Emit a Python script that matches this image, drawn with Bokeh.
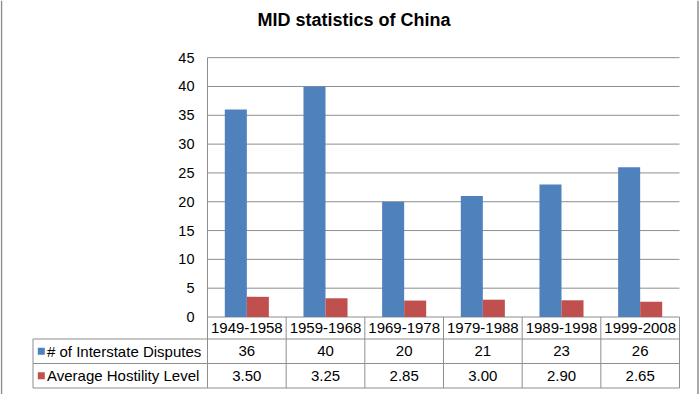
from bokeh.plotting import figure
from bokeh.models import LinearAxis, FixedTicker, Label, Span, ColumnDataSource, Grid
from bokeh.core.properties import value
from bokeh.embed import file_html
from bokeh.resources import INLINE

# ---------------- data ----------------
chart_title = "MID statistics of China"
periods = ["1949-1958", "1959-1968", "1969-1978", "1979-1988", "1989-1998", "1999-2008"]
disputes = [36, 40, 20, 21, 23, 26]
hostility = [3.50, 3.25, 2.85, 3.00, 2.90, 2.65]
series_names = ["# of Interstate Disputes", "Average Hostility Level"]
y_ticks = [0, 5, 10, 15, 20, 25, 30, 35, 40, 45]

# ---------------- styles ----------------
BLUE = "#4F81BD"
RED = "#C0504D"
LINE = "#8E8E8E"
FONT = "Liberation Sans"

W, H = 700, 394
X0_PX = 207.0      # canvas x where the category axis starts
CAT_PX = 78.667    # width of one category in pixels
Y0_PX = 316.5      # canvas y of value 0
UNIT_PX = 5.763    # pixels per value unit


def dx(px):
    return (px - X0_PX) / CAT_PX


def dy(py):
    return (Y0_PX - py) / UNIT_PX


n = len(periods)
p = figure(width=W, height=H, output_backend="svg", toolbar_location=None, tools="",
           x_range=(dx(0), dx(W)), y_range=(dy(H), dy(0)),
           x_axis_location=None, y_axis_location=None, min_border=0)
p.outline_line_color = None
p.background_fill_color = "white"
p.border_fill_color = "white"
p.renderers = [r for r in p.renderers if not isinstance(r, Grid)]
p.center = [r for r in p.center if not isinstance(r, Grid)]

# gridlines over category area
p.segment(x0=[0] * len(y_ticks), x1=[n] * len(y_ticks), y0=y_ticks, y1=y_ticks,
          line_color=LINE, line_width=1)

# y axis at the start of the category area
yaxis = LinearAxis(fixed_location=0, ticker=FixedTicker(ticks=y_ticks), bounds=(0, max(y_ticks)))
yaxis.axis_line_color = LINE
yaxis.major_tick_in = 0
yaxis.major_tick_out = 0
yaxis.minor_tick_in = 0
yaxis.minor_tick_out = 0
yaxis.major_label_standoff = 13
yaxis.major_label_text_font = FONT
yaxis.major_label_text_font_size = "14.5px"
yaxis.major_label_text_color = "black"
p.add_layout(yaxis, "left")

# bars
bw = 0.28
centers = [i + 0.5 for i in range(n)]
src = ColumnDataSource(dict(
    xb=[c - bw / 2 for c in centers],
    xr=[c + bw / 2 for c in centers],
    disputes=disputes,
    hostility=hostility,
))
p.vbar(x="xb", top="disputes", bottom=0, width=bw, source=src, fill_color=BLUE, line_color=None)
p.vbar(x="xr", top="hostility", bottom=0, width=bw, source=src, fill_color=RED, line_color=None)

# ---------------- data table ----------------
rows_px = [Y0_PX, 338.5, 363.0, 387.5]
rows = [dy(r) for r in rows_px]
label_left = dx(32.5)

# vertical lines at category boundaries
p.segment(x0=list(range(n + 1)), x1=list(range(n + 1)),
          y0=[rows[0]] * (n + 1), y1=[rows[3]] * (n + 1), line_color=LINE, line_width=1)
# left line of label column
p.segment(x0=[label_left], x1=[label_left], y0=[rows[1]], y1=[rows[3]], line_color=LINE, line_width=1)
# horizontal lines
p.segment(x0=[label_left] * 3, x1=[n] * 3, y0=rows[1:], y1=rows[1:], line_color=LINE, line_width=1)

row_c = [(rows[i] + rows[i + 1]) / 2 for i in range(3)]
tf = value(FONT)
p.text(x=centers, y=[row_c[0]] * n, text=periods, text_align="center", text_baseline="middle",
       text_font=tf, text_font_size="15px", text_color="black")
p.text(x=centers, y=[row_c[1]] * n, text=[str(v) for v in disputes], text_align="center",
       text_baseline="middle", text_font=tf, text_font_size="15px", text_color="black")
p.text(x=centers, y=[row_c[2]] * n, text=[f"{v:.2f}" for v in hostility], text_align="center",
       text_baseline="middle", text_font=tf, text_font_size="15px", text_color="black")

# row labels with legend keys
p.scatter(x=[dx(40.8)] * 2, y=row_c[1:], marker="square", size=7,
          fill_color=[BLUE, RED], line_color=None)
p.text(x=[dx(46.5)] * 2, y=row_c[1:], text=series_names, text_align="left", text_baseline="middle",
       text_font=tf, text_font_size="15px", text_color="black")

# chart-area border (left/right)
p.add_layout(Span(location=dx(1.0), dimension="height", line_color=LINE, line_width=1.5))
p.add_layout(Span(location=dx(697.5), dimension="height", line_color=LINE, line_width=1.5))

# title
p.add_layout(Label(x=dx(353.5), y=dy(19.5), text=chart_title, text_align="center",
                   text_baseline="alphabetic", text_font=FONT, text_font_size="18px",
                   text_font_style="bold", text_color="black"))

open("out.html", "w").write(file_html(p, INLINE))
